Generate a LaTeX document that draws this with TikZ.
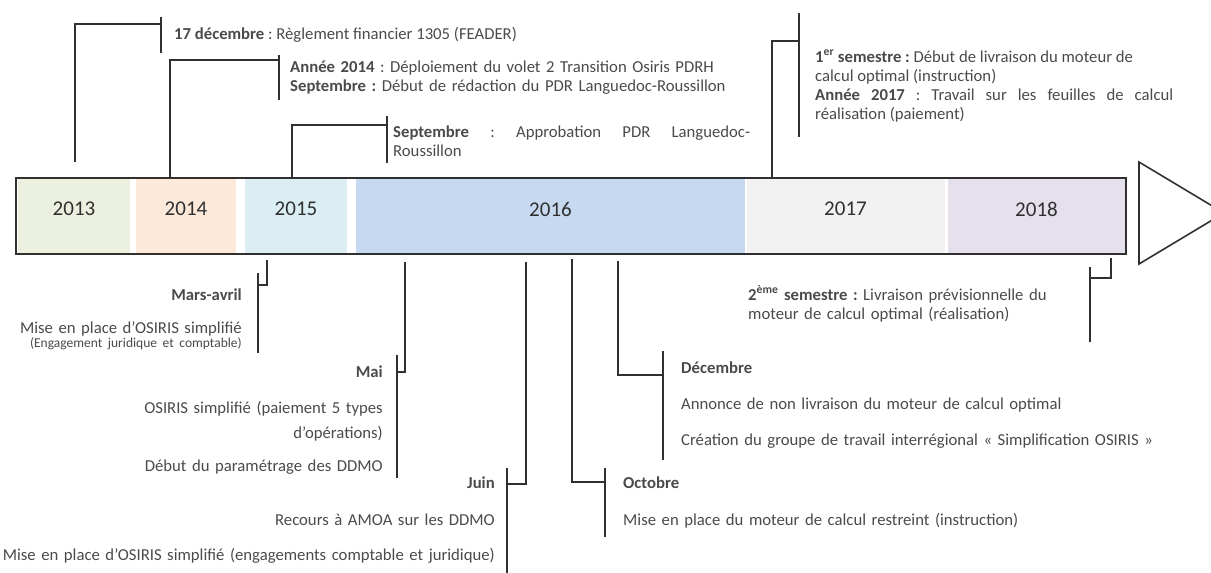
\documentclass[tikz,border=0pt]{standalone}
\usepackage{fontspec}
\setmainfont{Carlito}
\frenchspacing
\definecolor{c2013}{HTML}{EBF1DE}
\definecolor{c2014}{HTML}{FDE9D9}
\definecolor{c2015}{HTML}{DAEEF3}
\definecolor{c2016}{HTML}{C6D9F1}
\definecolor{c2017}{HTML}{F2F2F2}
\definecolor{c2018}{HTML}{E5E0EC}
\definecolor{txt}{HTML}{4A4A4A}
\definecolor{ink}{HTML}{303030}
\tikzset{link/.style = {line width=1.5pt, draw=ink}}
\tikzset{yearbox/.style = {fill=#1, inner sep=0, minimum height=74pt, text depth=14pt,
                           text=ink, font=\fontsize{21}{24}\selectfont}}
\tikzset{note/.style = {inner sep=0, text=txt, font=\fontsize{16.7}{19}\selectfont}}

\begin{document}
\begin{tikzpicture}[x=1pt, y=-1pt]
    \useasboundingbox (0,0) rectangle (1211,573);

    % years
    \node [yearbox=c2013, minimum width=112pt] (y13) at (74,216) {2013};
    \node [yearbox=c2014, minimum width=100pt] (y14) at (186,216) {2014};
    \node [yearbox=c2015, minimum width=102pt] (y15) at (296,216) {2015};
    \node [yearbox=c2016, minimum width=389pt] (y16) at (550.5,216) {2016};
    \node [yearbox=c2017, minimum width=198pt] (y17) at (845.5,216) {2017};
    \node [yearbox=c2018, minimum width=178pt] (y18) at (1036.5,216) {2018};
    \draw [line width=2pt, draw=ink] (16,178) rectangle (1126,254);
    \draw [line width=1.6pt, draw=ink] (1139,162) -- (1224,213) -- (1139,264) -- cycle;

    % above the bar
    \node [note, anchor=base west] (t13) at (174,39) {\textbf{17 décembre} : Règlement financier 1305 (FEADER)};
    \node [note, anchor=base west, text width=440pt, align=left] (t14) at (290,72)
      {\textbf{Année 2014} : Déploiement du volet 2 Transition Osiris PDRH\\
       \textbf{Septembre :} Début de rédaction du PDR Languedoc-Roussillon};
    \node [note, anchor=base west, text width=357pt, align=justify] (t15) at (393,137)
      {\textbf{Septembre} : Approbation PDR Languedoc-\linebreak Roussillon};
    \node [note, anchor=base west, text width=358pt, align=justify] (t17) at (815,62)
      {\textbf{1\textsuperscript{er} semestre :} Début de livraison du moteur de\\
       calcul optimal (instruction)\\
       \textbf{Année 2017} : Travail sur les feuilles de calcul\linebreak réalisation (paiement)};

    % below the bar
    \node [note, anchor=base east, text width=240pt, align=right] (tmars) at (242,300)
      {\textbf{Mars-avril}\\[14pt]
       Mise en place d’OSIRIS simplifié\\[-5pt]
       {\fontsize{13.5}{16}\selectfont (Engagement juridique et comptable)}};
    \node [note, anchor=base east, text width=300pt, align=right] (tmai) at (383,377)
      {\textbf{Mai}\\[17pt]
       OSIRIS simplifié (paiement 5 types\\[6pt]
       d’opérations)\\[14pt]
       Début du paramétrage des DDMO};
    \node [note, anchor=base east, text width=520pt, align=right] (tjuin) at (495,488)
      {\textbf{Juin}\\[18pt]
       Recours à AMOA sur les DDMO\\[16pt]
       Mise en place d’OSIRIS simplifié (engagements comptable et juridique)};
    \node [note, anchor=base west, text width=420pt, align=left] (toct) at (623,488)
      {\textbf{Octobre}\\[18pt]
       Mise en place du moteur de calcul restreint (instruction)};
    \node [note, anchor=base west, text width=500pt, align=left] (tdec) at (681,373)
      {\textbf{Décembre}\\[17pt]
       Annonce de non livraison du moteur de calcul optimal\\[17pt]
       Création du groupe de travail interrégional «~Simplification OSIRIS~»};
    \node [note, anchor=base west, text width=320pt, align=left] (t18) at (748,300)
      {\textbf{2\textsuperscript{ème} semestre :} Livraison prévisionnelle du\\
       moteur de calcul optimal (réalisation)};

    % hooks: start on the bar, elbow onto the tick
    \coordinate (a13) at (75,162);    \coordinate (k13) at (161,24);
    \coordinate (a14) at (170,178);   \coordinate (k14) at (279,60);
    \coordinate (a15) at (292,178);   \coordinate (k15) at (387,125);
    \coordinate (a17) at (772,178);   \coordinate (k17) at (799,41);
    \coordinate (amars) at (267,260); \coordinate (kmars) at (258,285);
    \coordinate (amai) at (405,262);  \coordinate (kmai) at (397,372);
    \coordinate (ajuin) at (526,262); \coordinate (kjuin) at (507,484);
    \coordinate (aoct) at (572,259);  \coordinate (koct) at (605,482);
    \coordinate (adec) at (618,261);  \coordinate (kdec) at (663,375);
    \coordinate (a18) at (1111,258);  \coordinate (k18) at (1090,278);
    \foreach \e in {13,14,15,17,mars,mai,juin,oct,dec,18}
      \draw [link] (a\e) |- (k\e);

    % ticks
    \coordinate (u13) at (161,17);    \coordinate (d13) at (161,53);
    \coordinate (u14) at (279,55);    \coordinate (d14) at (279,100);
    \coordinate (u15) at (387,116);   \coordinate (d15) at (387,163);
    \coordinate (u17) at (799,13);    \coordinate (d17) at (799,137);
    \coordinate (umars) at (258,273); \coordinate (dmars) at (258,353);
    \coordinate (umai) at (397,355);  \coordinate (dmai) at (397,478);
    \coordinate (ujuin) at (507,468); \coordinate (djuin) at (507,575);
    \coordinate (uoct) at (605,468);  \coordinate (doct) at (605,537);
    \coordinate (udec) at (663,351);  \coordinate (ddec) at (663,460);
    \coordinate (u18) at (1090,267);  \coordinate (d18) at (1090,342);
    \foreach \e in {13,14,15,17,mars,mai,juin,oct,dec,18}
      \draw [link] (u\e) -- (d\e);
\end{tikzpicture}
\end{document}
